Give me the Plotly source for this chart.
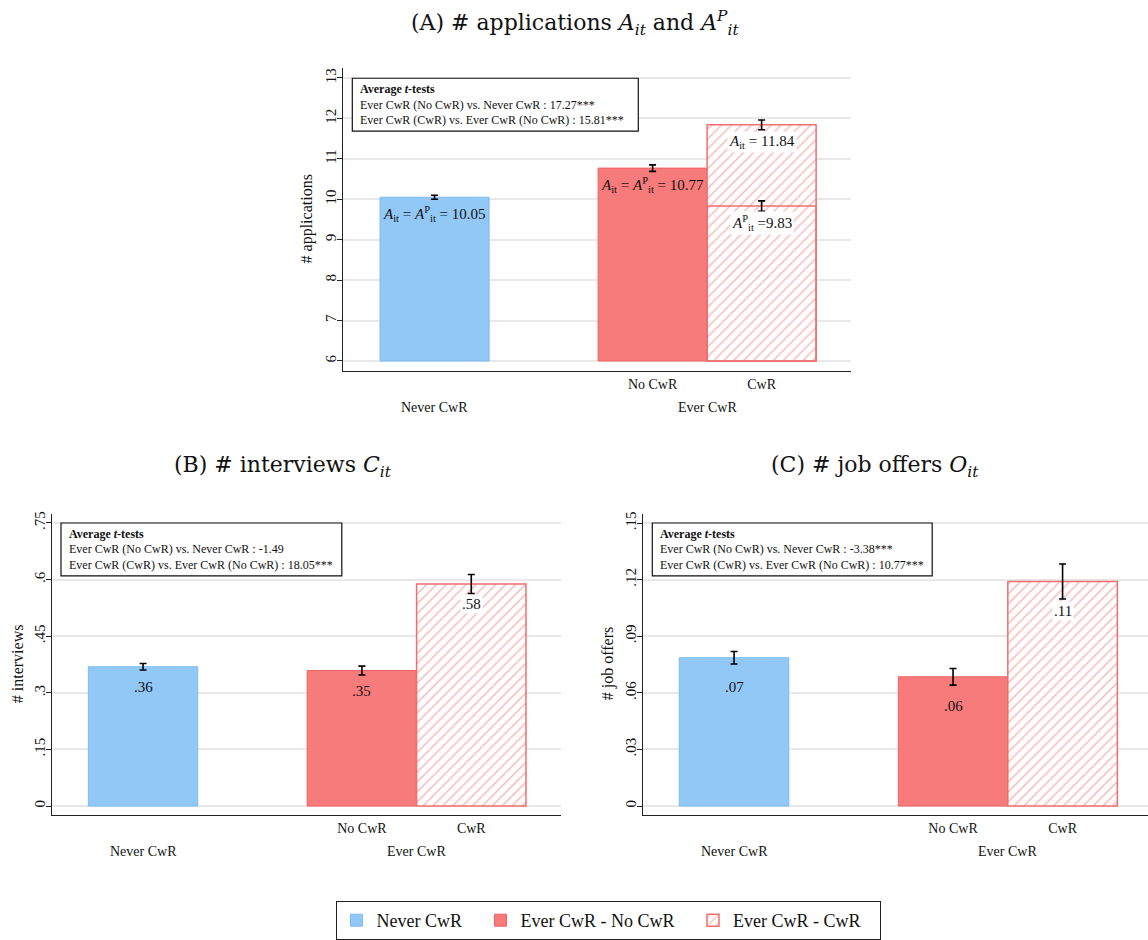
import plotly.graph_objects as go

# ---------------- data ----------------
groups = ["Never CwR", "Ever CwR - No CwR", "Ever CwR - CwR"]
sub_labels = ["No CwR", "CwR"]
top_labels = ["Never CwR", "Ever CwR"]

apps_mean = [10.05, 10.77, 11.84]
apps_err = [0.05, 0.08, 0.12]
apps_p_mean = 9.83
apps_p_err = 0.13
apps_labels = ["<i>A</i><sub>it</sub> = <i>A</i><sup>P</sup><sub>it</sub> = 10.05",
               "<i>A</i><sub>it</sub> = <i>A</i><sup>P</sup><sub>it</sub> = 10.77",
               "<i>A</i><sub>it</sub> = 11.84"]
apps_p_label = "<i>A</i><sup>P</sup><sub>it</sub> =9.83"

interviews_mean = [0.369, 0.359, 0.588]
interviews_err = [0.0087, 0.0118, 0.0253]
interviews_labels = [".36", ".35", ".58"]

offers_mean = [0.0786, 0.0685, 0.119]
offers_err = [0.0033, 0.0044, 0.0093]
offers_labels = [".07", ".06", ".11"]

ttest_A = ["Ever CwR (No CwR) vs. Never CwR : 17.27***",
           "Ever CwR (CwR) vs. Ever CwR (No CwR) : 15.81***"]
ttest_B = ["Ever CwR (No CwR) vs. Never CwR : -1.49",
           "Ever CwR (CwR) vs. Ever CwR (No CwR) : 18.05***"]
ttest_C = ["Ever CwR (No CwR) vs. Never CwR : -3.38***",
           "Ever CwR (CwR) vs. Ever CwR (No CwR) : 10.77***"]

ticks_A = [6, 7, 8, 9, 10, 11, 12, 13]
ticks_B = [0, 0.15, 0.30, 0.45, 0.60, 0.75]
ticktext_B = ["0", ".15", ".3", ".45", ".6", ".75"]
ticks_C = [0, 0.03, 0.06, 0.09, 0.12, 0.15]
ticktext_C = ["0", ".03", ".06", ".09", ".12", ".15"]

# ---------------- style / layout ----------------
W, H = 1148, 940
XPOS = [0, 2, 3]
A_BASE = 6
BLUE, BLUE_LINE = "#92C8F5", "#7DBBF0"
RED, RED_LINE = "#F67B7A", "#EE6262"
HATCH = "#F26E6E"
SERIF = "Liberation Serif"
TITLE_FONT = "DejaVu Serif"
GRID = "#E8E8E8"
AX = "#222222"
TXT = "#111111"
LEGEND_PAD = "\u00a0\u00a0\u00a0"


def fx(p):
    return p / W


def fy(p):
    return 1 - p / H


fig = go.Figure()


def add_bars(xa, ya, means, errs, base, showlegend):
    styles = [
        dict(color=BLUE, line=dict(color=BLUE_LINE, width=1)),
        dict(color=RED, line=dict(color=RED_LINE, width=1)),
        dict(color="white", line=dict(color=HATCH, width=1.5),
             pattern=dict(shape="/", fgcolor=HATCH, bgcolor="white", size=7, solidity=0.2)),
    ]
    for i in range(3):
        fig.add_trace(go.Bar(
            x=[XPOS[i]], y=[means[i] - base], base=base, width=1,
            marker=styles[i], name=groups[i] + LEGEND_PAD, showlegend=showlegend,
            error_y=dict(type="data", array=[errs[i]], color="black", thickness=1.6, width=3.5),
            xaxis=xa, yaxis=ya,
        ))


add_bars("x", "y", apps_mean, apps_err, A_BASE, False)
# A^P split inside the hatched bar
fig.add_trace(go.Bar(x=[XPOS[2]], y=[apps_p_mean - A_BASE], base=A_BASE, width=1,
                     marker=dict(color="rgba(0,0,0,0)", line=dict(color=HATCH, width=1.5)),
                     showlegend=False, xaxis="x", yaxis="y"))
fig.add_trace(go.Scatter(x=[XPOS[2]], y=[apps_p_mean], mode="markers",
                         marker=dict(size=1, color="rgba(0,0,0,0)"),
                         error_y=dict(type="data", array=[apps_p_err], color="black", thickness=1.6, width=3.5),
                         showlegend=False, xaxis="x", yaxis="y"))
add_bars("x2", "y2", interviews_mean, interviews_err, 0, True)
add_bars("x3", "y3", offers_mean, offers_err, 0, False)

annotations = []
shapes = []


def bar_label(xr, yr, x, y, text, shift, hatched, size):
    annotations.append(dict(
        xref=xr, yref=yr, x=x, y=y, text=text, showarrow=False, yshift=-shift,
        xanchor="center", yanchor="middle",
        font=dict(family=SERIF, size=size, color=TXT),
        bgcolor="white" if hatched else "rgba(0,0,0,0)", borderpad=1))


for i in range(3):
    bar_label("x", "y", XPOS[i], apps_mean[i], apps_labels[i], 17, i == 2, 15)
    bar_label("x2", "y2", XPOS[i], interviews_mean[i], interviews_labels[i], 20, i == 2, 15)
    bar_label("x3", "y3", XPOS[i], offers_mean[i], offers_labels[i], 29, i == 2, 15)
bar_label("x", "y", XPOS[2], apps_p_mean, apps_p_label, 17, True, 15)

# group labels under axis
for xr, yr in [("x", "y domain"), ("x2", "y2 domain"), ("x3", "y3 domain")]:
    annotations.append(dict(xref=xr, yref=yr, x=XPOS[0], y=0, yshift=-37, showarrow=False,
                            xanchor="center", yanchor="middle",
                            text=top_labels[0], font=dict(family=SERIF, size=14, color=TXT)))
    annotations.append(dict(xref=xr, yref=yr, x=(XPOS[1] + XPOS[2]) / 2, y=0, yshift=-37,
                            showarrow=False, xanchor="center", yanchor="middle",
                            text=top_labels[1], font=dict(family=SERIF, size=14, color=TXT)))


def ttest_box(x0, x1, y0, y1, tx, ty, lines):
    shapes.append(dict(type="rect", xref="paper", yref="paper", x0=fx(x0), x1=fx(x1),
                       y0=fy(y1), y1=fy(y0), line=dict(color=TXT, width=1.2), fillcolor="white"))
    texts = ["<b>Average <i>t</i>-tests</b>"] + lines
    for k, t in enumerate(texts):
        annotations.append(dict(xref="paper", yref="paper", x=fx(tx), y=fy(ty[k]), xanchor="left",
                                yanchor="middle", showarrow=False, text=t,
                                font=dict(family=SERIF, size=12, color=TXT)))


ttest_box(352.3, 638.3, 77.3, 131, 358, [88.3, 104, 120], ttest_A)
ttest_box(61, 341.8, 528.3, 582, 66.7, [539.3, 555, 571.3], ttest_B)
ttest_box(652.3, 932.2, 528.3, 582, 657.7, [539.3, 555, 571.3], ttest_C)

# y-axis titles
for x, y, t in [(307, 220.5, "# applications"), (17, 671.5, "# interviews"), (608, 671.5, "# job offers")]:
    annotations.append(dict(xref="paper", yref="paper", x=fx(x), y=fy(y), textangle=-90,
                            xanchor="center", yanchor="middle",
                            showarrow=False, text=t, font=dict(family=SERIF, size=16, color=TXT)))

# panel titles
for x, y, t in [(575, 21, "(A) # applications <i>A</i><sub><i>it</i></sub> and <i>A</i><sup><i>P</i></sup><sub><i>it</i></sub>"),
                (283, 471, "(B) # interviews <i>C</i><sub><i>it</i></sub>"),
                (875, 471, "(C) # job offers <i>O</i><sub><i>it</i></sub>")]:
    annotations.append(dict(xref="paper", yref="paper", x=fx(x), y=fy(y), showarrow=False, text=t,
                            xanchor="center", yanchor="middle",
                            font=dict(family=TITLE_FONT, size=22, color=TXT)))

xcommon = dict(showgrid=False, zeroline=False, showline=True, linecolor=AX, linewidth=1.4,
               tickvals=XPOS[1:], ticktext=sub_labels, ticks="",
               tickfont=dict(family=SERIF, size=14, color=TXT), fixedrange=True)
ycommon = dict(showgrid=True, gridcolor=GRID, gridwidth=1.5, zeroline=False, showline=True,
               linecolor=AX, linewidth=1.4, ticks="outside", ticklen=5, tickcolor=AX, tickangle=-90,
               ticklabelstandoff=-5,
               tickfont=dict(family=SERIF, size=15, color=TXT))

fig.update_layout(
    width=W, height=H, margin=dict(l=0, r=0, t=0, b=0),
    paper_bgcolor="white", plot_bgcolor="white", barmode="overlay",
    xaxis=dict(domain=[fx(343), fx(851)], range=[-0.84, 3.82], anchor="y", **xcommon),
    yaxis=dict(domain=[fy(374), fy(67)], range=[5.756, 13.244], anchor="x",
               tickvals=ticks_A, ticktext=[str(t) for t in ticks_A], **ycommon),
    xaxis2=dict(domain=[fx(51.7), fx(561)], range=[-0.835, 3.82], anchor="y2", **xcommon),
    yaxis2=dict(domain=[fy(824), fy(519)], range=[-0.0227, 0.7742], anchor="x2",
                tickvals=ticks_B, ticktext=ticktext_B, **ycommon),
    xaxis3=dict(domain=[fx(642.7), 1.0], range=[-0.834, 3.78], anchor="y3", **xcommon),
    yaxis3=dict(domain=[fy(824), fy(519)], range=[-0.00455, 0.15487], anchor="x3",
                tickvals=ticks_C, ticktext=ticktext_C, **ycommon),
    legend=dict(orientation="h", x=fx(608), xanchor="center", y=fy(912), yanchor="top",
                bordercolor="#222", borderwidth=1, bgcolor="white",
                font=dict(family=SERIF, size=18, color=TXT)),
    annotations=annotations, shapes=shapes,
)

fig.write_html("out.html")
